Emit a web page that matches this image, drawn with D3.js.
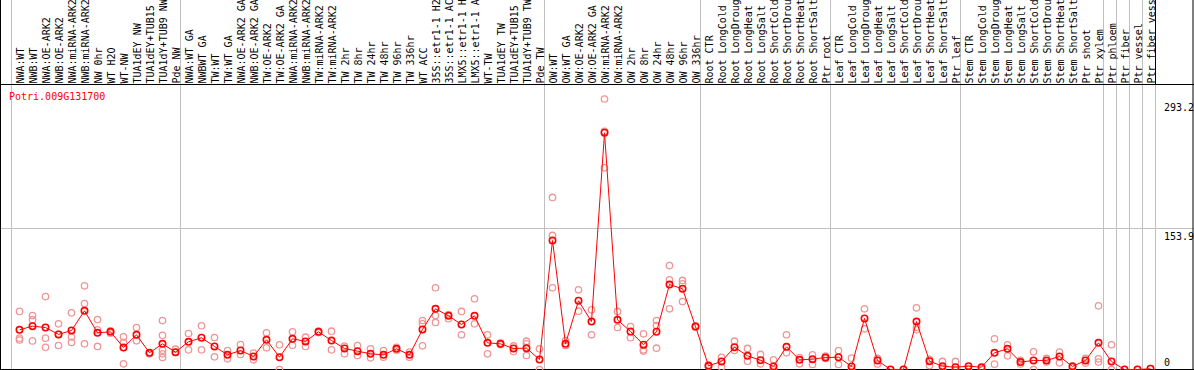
<!DOCTYPE html>
<html>
<head>
<meta charset="utf-8">
<script src="https://cdn.jsdelivr.net/npm/d3@7"></script>
<style>
body{margin:0;background:#fff}
svg{display:block}
text{font-family:"DejaVu Sans Mono",monospace;font-size:10px}
</style>
</head>
<body>
<div id="chart"></div>
<script>
var gene = "Potri.009G131700";
var samples = ["NWA:WT","NWB:WT","NWA:OE-ARK2","NWB:OE-ARK2","NWA:miRNA-ARK2","NWB:miRNA-ARK2","NW 0hr","WT H2O","WT-NW","TUA1dEY NW","TUA1dEY+TUB15 NW","TUA1dY+TUB9 NW","Pde NW",
  "NWA:WT GA","NWBWT GA","TW:WT","TW:WT GA","NWA:OE-ARK2 GA","NWB:OE-ARK2 GA","TW:OE-ARK2","TW:OE-ARK2 GA","NWA:miRNA-ARK2 GA","NWB:miRNA-ARK2 GA","TW:miRNA-ARK2","TW:miRNA-ARK2 GA",
  "TW 2hr","TW 8hr","TW 24hr","TW 48hr","TW 96hr","TW 336hr","WT ACC","35S::etr1-1 H2O","35S::etr1-1 ACC","LMX5::etr1-1 H2O","LMX5::etr1-1 ACC","WT-TW","TUA1dEY TW","TUA1dEY+TUB15 TW","TUA1dY+TUB9 TW","Pde TW",
  "OW:WT","OW:WT GA","OW:OE-ARK2","OW:OE-ARK2 GA","OW:miRNA-ARK2","OW:miRNA-ARK2 GA","OW 2hr","OW 8hr","OW 24hr","OW 48hr","OW 96hr","OW 336hr",
  "Root CTR","Root LongCold","Root LongDrought","Root LongHeat","Root LongSalt","Root ShortCold","Root ShortDrought","Root ShortHeat","Root ShortSalt","Ptr root",
  "Leaf CTR","Leaf LongCold","Leaf LongDrought","Leaf LongHeat","Leaf LongSalt","Leaf ShortCold","Leaf ShortDrought","Leaf ShortHeat","Leaf ShortSalt","Ptr leaf",
  "Stem CTR","Stem LongCold","Stem LongDrought","Stem LongHeat","Stem LongSalt","Stem ShortCold","Stem ShortDrought","Stem ShortHeat","Stem ShortSalt","Ptr shoot","Ptr xylem",
  "Ptr phloem","Ptr fiber","Ptr vessel","Ptr fiber vessel"];
// index where each group starts (last = end)
var groupStarts = [0,13,41,53,63,73,84,85,86,87,88];
var means = [43,47,45.5,38,42.3,63.6,39.8,40.8,23.8,37.6,18.1,27.8,18.8,
  30,34.4,25,15.9,20.6,14.1,32.2,13.3,33.3,30.4,40.8,31.4,22.8,19.9,17,15.9,22.4,15.9,43.4,65.8,58.2,48.8,58.2,28.9,27.8,22.8,23.1,10.8,
  139.8,27.8,74.5,52,256.6,53.8,41.2,26.8,40.9,92.1,87.5,46.6,
  4,8.7,24.2,14.8,10.1,3.3,24.6,10.5,11.2,13,
  13.3,3.3,55.3,9.8,0,0,52,9,3.6,2.5,
  3.6,2.5,18.1,22.4,8,9.8,9.8,14.1,3.3,9.8,28.9,
  8.7,0,0,0.8];
var reps = [[63,34,32],[58.5,54,31],[79,34,24],[49.5,26,38],[61.4,35.4,29.3],[90.7,71.5,27.8],[54.2,43,25],[42,39.4],[35.4,29.3,6.2],[45.5,31.1],[18,17],[53,37,21,17,13],[22,18.5],
  [39,21.3],[47.4,21.3],[34.7,13.7],[20.6,11.6],[27.1,16.3],[17.7,10.5],[39.8,23.5],[26.8,0],[40.9,26.3],[35,25],[41.5,40],[41.5,21.3],[25.3,17],[26,15.2],[22.4,12.7],[20.6,13.3],[24,21],[18.8,13.3],[53.1,49.5,25.7],[88.6,58.5,51],[59.5,55],[62.9,37.6],[76.6,49.5],[37.6,17],[28.5,27],[25.5,19.5],[30.7,27.8,15.2],[22.4,0],
  [186.5,145.3,88.6],[31.4,26],[86.4,63.2],[64.7,37.6],[293.2,218.6,258],[62.9,45.5],[46.6,34.4],[38.7,21.3,20],[53.1,47.7,23.1],[112.7,97.2,65.8],[96.5,92.9,73.7],[47,46],
  [5,3.5],[13.3,2.5],[30.7,20.6],[22.8,9],[16.3,6.2],[10.5,0],[37.6,18.1],[13,6.2],[15.9,5.4],[14.5,12],
  [20.6,5.4],[12.3,0],[65.8,44.1],[12,6],[0],[0],[66.9,45.9,43],[11,4.3],[8.7,1],[8.7,0],
  [1],[1],[33.3,5.8],[26.8,14.8],[10,6],[19.2,0],[12,8],[18.8,7.2],[4,2],[12,7],[69,11.6,8],
  [26.8,0],[0],[0],[1]];
var yTicks = [0,153.9,293.2];

var W = 1194, H = 370;
var svg = d3.select("#chart").append("svg").attr("width", W).attr("height", H);

var x = d3.scaleBand().domain(d3.range(samples.length)).range([11, 1155]);
var y = d3.scaleLinear().domain([0, 293.2]).range([369.5, 99]);
function px(i){ return x(i) + 8.5; }

// group separators
svg.selectAll(".sep").data(groupStarts).enter().append("line")
  .attr("x1", d => x(0) + d * x.bandwidth() + 0.5).attr("x2", d => x(0) + d * x.bandwidth() + 0.5)
  .attr("y1", 0).attr("y2", 369)
  .attr("stroke", "#c0c0c0");

// gridline at the middle tick
svg.append("line").attr("x1", 0).attr("x2", W).attr("y1", Math.round(y(153.9)) + 0.5).attr("y2", Math.round(y(153.9)) + 0.5)
  .attr("stroke", "#c0c0c0");

// frame
svg.append("line").attr("x1", 0).attr("x2", W).attr("y1", 84.5).attr("y2", 84.5).attr("stroke", "#000");
svg.append("line").attr("x1", 0).attr("x2", W).attr("y1", 369.5).attr("y2", 369.5).attr("stroke", "#000");
svg.append("line").attr("x1", 0.5).attr("x2", 0.5).attr("y1", 0).attr("y2", H).attr("stroke", "#000");
svg.append("line").attr("x1", 1193).attr("x2", 1193).attr("y1", 0).attr("y2", H).attr("stroke", "#000");
svg.append("line").attr("x1", 1155.5).attr("x2", 1155.5).attr("y1", 0).attr("y2", 84.5).attr("stroke", "#000");

// sample labels
svg.selectAll(".lab").data(samples).enter().append("text")
  .attr("transform", (d, i) => "translate(" + (px(i) + 4.2) + ",83.5) rotate(-90)")
  .attr("fill", "#000")
  .text(d => d);

// y labels
svg.selectAll(".yl").data(yTicks).enter().append("text")
  .attr("x", 1164)
  .attr("y", d => d == 0 ? 366 : y(d) + 12)
  .attr("fill", "#000")
  .text(d => d);

svg.append("text").attr("x", 9).attr("y", 100).attr("fill", "red").text(gene);

// replicates
var repPts = [];
reps.forEach((r, i) => r.forEach(v => repPts.push({i: i, v: v})));
svg.selectAll(".rep").data(repPts).enter().append("circle")
  .attr("cx", d => px(d.i)).attr("cy", d => y(d.v)).attr("r", 3.2)
  .attr("fill", "none").attr("stroke", "#f09696").attr("stroke-width", 1.3);

var line = d3.line().x((d, i) => px(i)).y(d => y(d));
svg.append("path").datum(means).attr("d", line)
  .attr("fill", "none").attr("stroke", "red").attr("stroke-width", 1);

svg.selectAll(".mean").data(means).enter().append("circle")
  .attr("cx", (d, i) => px(i)).attr("cy", d => y(d)).attr("r", 3.2)
  .attr("fill", "none").attr("stroke", "red").attr("stroke-width", 1.6);
</script>
</body>
</html>
